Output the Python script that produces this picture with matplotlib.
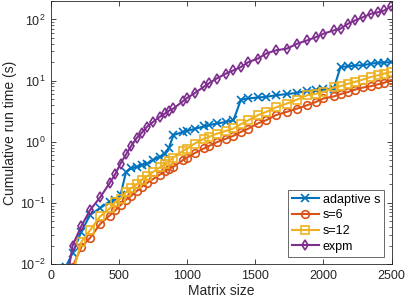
import matplotlib
matplotlib.use("Agg")
import matplotlib.pyplot as plt
from matplotlib.ticker import LogLocator, NullFormatter

plt.rcParams['font.family'] = ['Liberation Sans', 'DejaVu Sans']
plt.rcParams['mathtext.fontset'] = 'custom'
plt.rcParams['mathtext.rm'] = 'Liberation Sans'
plt.rcParams['mathtext.it'] = 'Liberation Sans:italic'

sizes = [110, 160, 225, 290, 362, 432, 475, 512, 552, 590, 630, 668, 705, 750,
         800, 838, 865, 900, 970, 1000, 1055, 1125, 1160, 1217, 1285, 1340, 1395,
         1450, 1520, 1580, 1650, 1730, 1808, 1880, 1945, 2000, 2075, 2125, 2180,
         2230, 2290, 2350, 2400, 2445, 2495]

adaptive = [0.009, 0.015, 0.034, 0.064, 0.082, 0.105, 0.112, 0.135, 0.32, 0.365,
            0.39, 0.41, 0.44, 0.50, 0.57, 0.64, 0.78, 1.28, 1.45, 1.5, 1.62, 1.78,
            1.86, 1.99, 2.1, 2.25, 4.9, 5.1, 5.3, 5.4, 5.75, 6.0, 6.3, 6.8, 6.9,
            7.2, 7.4, 16.7, 17.1, 17.6, 17.8, 18.9, 19.4, 19.7, 20.0]

s6 = [0.003, 0.009, 0.019, 0.027, 0.045, 0.062, 0.076, 0.092, 0.112, 0.13, 0.155,
      0.184, 0.21, 0.245, 0.29, 0.33, 0.36, 0.39, 0.50, 0.55, 0.65, 0.78, 0.85,
      0.98, 1.12, 1.25, 1.45, 1.64, 2.0, 2.25, 2.72, 3.07, 3.49, 3.95, 4.47, 5.1,
      5.5, 6.0, 6.5, 7.1, 7.7, 8.1, 8.7, 9.2, 10.2]

s12 = [0.002, 0.007, 0.023, 0.036, 0.06, 0.081, 0.105, 0.117, 0.15, 0.173, 0.2,
       0.24, 0.27, 0.32, 0.38, 0.43, 0.48, 0.55, 0.71, 0.77, 0.93, 1.12, 1.2,
       1.35, 1.5, 1.65, 1.94, 2.25, 2.72, 3.07, 3.63, 4.2, 4.9, 5.75, 6.1, 6.5,
       7.7, 8.1, 8.9, 9.5, 10.4, 11.5, 12.2, 13.0, 13.8]

expm = [0.004, 0.020, 0.042, 0.077, 0.123, 0.21, 0.30, 0.44, 0.62, 0.85, 1.15,
        1.4, 1.75, 2.1, 2.55, 2.9, 3.2, 3.5, 4.6, 5.2, 6.2, 8.0, 9.0, 10.8, 13.0,
        14.7, 16.7, 20.1, 22.9, 27.6, 31.2, 33.2, 40.1, 45.4, 51.4, 58.4, 66.2,
        70.5, 85, 96, 109, 124, 131, 140, 163]

labels = ['adaptive s', 's=6', 's=12', 'expm']
colors = ['#0072BD', '#D95319', '#EDB120', '#7E2F8E']
markers = ['x', 'o', 's', 'd']
series = [adaptive, s6, s12, expm]

fig = plt.figure(figsize=(4.07, 3.03), dpi=100)
ax = fig.add_axes([0.1246, 0.1287, 0.8378, 0.868])

for y, lab, c, m in zip(series, labels, colors, markers):
    ax.plot(sizes, y, color=c, marker=m, markersize=5.5, markerfacecolor='none',
            markeredgewidth=1.2, linewidth=1.5, label=lab)

ax.set_yscale('log')
ax.set_xlim(0, 2500)
ax.set_ylim(1e-2, 200)
ax.set_xticks([0, 500, 1000, 1500, 2000, 2500])
ax.yaxis.set_major_locator(LogLocator(base=10, numticks=10))
ax.yaxis.set_minor_locator(LogLocator(base=10, subs=range(2, 10), numticks=20))
ax.yaxis.set_minor_formatter(NullFormatter())

ax.tick_params(which='both', direction='in', top=True, right=True,
               colors='#262626', labelcolor='#262626', labelsize=9)
ax.tick_params(which='major', length=3.5, width=0.6)
ax.tick_params(which='minor', length=2, width=0.5)
ax.tick_params(axis='x', which='major', pad=4)
for sp in ax.spines.values():
    sp.set_color('#262626')
    sp.set_linewidth(0.6)

ax.set_xlabel('Matrix size', fontsize=10, color='#262626', labelpad=2)
ax.set_ylabel('Cumulative run time (s)', fontsize=10, color='#262626', labelpad=2)

leg = ax.legend(loc='lower right', fontsize=9, frameon=True, fancybox=False,
                edgecolor='#262626', borderaxespad=0.6, handlelength=2.2,
                handletextpad=0.3, labelspacing=0.3, borderpad=0.3)
leg.get_frame().set_linewidth(0.6)

fig.savefig('out.png', dpi=100)
